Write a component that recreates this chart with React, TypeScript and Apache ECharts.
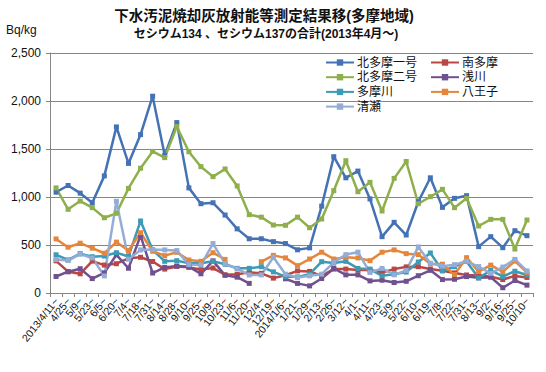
import React, { useEffect, useRef } from "react";
import * as echarts from "echarts";

const categories = [
  "2013/4/11~", "4/25~", "5/9~", "5/23~", "6/5~", "6/20~", "7/4~", "7/18~", "7/31~", "8/14~",
  "8/28~", "9/10~", "9/25~", "10/9~", "10/23~", "11/6~", "11/20~", "12/4~", "12/19~", "2014/1/6~",
  "1/21~", "1/29~", "2/13~", "2/26~", "3/12~", "4/1~", "4/11~", "4/23~", "5/9~", "5/22~",
  "6/10~", "6/19~", "7/8~", "7/22~", "7/31~", "8/13~", "9/2~", "9/16~", "9/25~", "10/10~",
];

const kitatama1 = [1050, 1120, 1040, 940, 1220, 1730, 1350, 1650, 2050, 1435, 1775, 1095, 930, 940, 812, 668, 565, 565, 535, 515, 450, 470, 905, 1420, 1200, 1270, 980, 587, 736, 604, 950, 1200, 892, 986, 1014, 483, 587, 472, 649, 597];
const minamitama = [335, 222, 200, 332, 291, 305, 361, 372, 328, 249, 277, 267, 245, 260, 190, 195, 215, 205, 155, 185, 230, 225, 179, 249, 249, 239, 239, 214, 249, 272, 274, 250, 232, 209, 188, 185, 169, 140, 178, 162];
const kitatama2 = [1095, 872, 958, 889, 784, 830, 1090, 1300, 1475, 1410, 1735, 1472, 1316, 1212, 1292, 1115, 816, 790, 708, 705, 790, 680, 771, 1066, 1378, 1055, 1153, 854, 1194, 1370, 930, 1003, 1080, 889, 986, 698, 767, 767, 458, 760];
const asakawa = [172, 222, 253, 150, 210, 398, 258, 597, 208, 267, 281, 274, 200, 335, 184, 165, 100, null, null, 148, 100, 74, 151, 256, 189, 189, 126, 133, 109, 122, 180, 236, 140, 143, 171, 158, 165, 55, 130, 82];
const tamagawa = [398, 345, 410, 378, 385, 420, 380, 750, 450, 330, 337, 309, 309, 330, 299, 257, 257, 274, 220, 170, 168, 196, 326, 312, 330, 256, 249, 179, 196, 218, 323, 417, 232, 274, 328, 157, 235, 172, 227, 188];
const hachioji = [563, 477, 519, 467, 414, 530, 442, 628, 435, 389, 424, 344, 330, 420, 350, null, null, 326, 392, 366, 285, 354, 425, 354, 372, 365, 337, 425, 449, 410, 400, 305, 300, 192, 368, 223, 290, 221, 333, 215];
const kiyose = [348, 338, 405, 365, 178, 955, 352, 449, 452, 449, 442, 295, 291, 515, 305, 253, 188, 188, 372, 196, 161, 179, 196, 319, 400, 425, 214, 256, 189, 235, 480, 310, 280, 295, 330, 275, 205, 270, 350, 230];

const seriesNames = ["北多摩一号", "南多摩", "北多摩二号", "浅川", "多摩川", "八王子", "清瀬"];
const seriesData = [kitatama1, minamitama, kitatama2, asakawa, tamagawa, hachioji, kiyose];
const seriesColors = ["#4472B4", "#B94743", "#8EAF4B", "#70508F", "#3D9BB5", "#E5863C", "#93ADD6"];

const yTicks = [0, 500, 1000, 1500, 2000, 2500];

const FONT = "'Liberation Sans', 'Noto Sans CJK JP', sans-serif";

const legendText = {
  fontSize: 12,
  lineHeight: 12,
  fontFamily: FONT,
  color: "#111",
  padding: [1, 0, 0, -2],
};

export default function App() {
  const ref = useRef<HTMLDivElement>(null);
  useEffect(() => {
    if (!ref.current) return;
    const chart = echarts.init(ref.current, undefined, { renderer: "svg" });
    chart.setOption({
      animation: false,
      backgroundColor: "#ffffff",
      textStyle: { fontFamily: FONT },
      graphic: [
        {
          type: "text",
          x: 264,
          y: 9,
          style: {
            text: "下水汚泥焼却灰放射能等測定結果移(多摩地域)",
            fontSize: 14.5,
            fontWeight: "bold",
            fontFamily: FONT,
            fill: "#111",
            textAlign: "center",
          },
        },
        {
          type: "text",
          x: 266,
          y: 28,
          style: {
            text: "セシウム134 、セシウム137の合計(2013年4月～)",
            fontSize: 12,
            fontWeight: "bold",
            fontFamily: FONT,
            fill: "#111",
            textAlign: "center",
          },
        },
        {
          type: "text",
          x: 6,
          y: 24,
          style: { text: "Bq/kg", fontSize: 12, fontFamily: FONT, fill: "#111" },
        },
      ],
      legend: [
        {
          left: 325,
          top: 56,
          padding: 0,
          orient: "vertical",
          itemWidth: 28,
          itemHeight: 8,
          itemGap: 1.7,
          data: ["北多摩一号", "北多摩二号", "多摩川", "清瀬"],
          textStyle: legendText,
        },
        {
          left: 430,
          top: 56,
          padding: 0,
          orient: "vertical",
          itemWidth: 28,
          itemHeight: 8,
          itemGap: 1.7,
          data: ["南多摩", "浅川", "八王子"],
          textStyle: legendText,
        },
      ],
      grid: { left: 50, right: 13, top: 53, bottom: 79, containLabel: false },
      xAxis: {
        type: "category",
        data: categories,
        boundaryGap: true,
        axisLine: { lineStyle: { color: "#868686", width: 1 } },
        axisTick: { show: true, interval: 0, length: 4, lineStyle: { color: "#868686" } },
        axisLabel: {
          interval: 0,
          rotate: 52,
          fontSize: 10.5,
          color: "#111",
          margin: 6,
          fontFamily: FONT,
        },
      },
      yAxis: {
        type: "value",
        min: yTicks[0],
        max: yTicks[yTicks.length - 1],
        interval: 500,
        axisLine: { show: true, lineStyle: { color: "#868686", width: 1 } },
        axisTick: { show: true, length: 4, lineStyle: { color: "#868686" } },
        splitLine: { lineStyle: { color: "#868686", width: 1 } },
        axisLabel: {
          fontSize: 12,
          color: "#111",
          margin: 9,
          fontFamily: FONT,
          formatter: (v: number) => v.toLocaleString("en-US"),
        },
      },
      series: seriesNames.map((name, i) => ({
        name,
        type: "line",
        data: seriesData[i],
        connectNulls: false,
        symbol: "rect",
        symbolSize: 5,
        showSymbol: true,
        itemStyle: { color: seriesColors[i] },
        lineStyle: { color: seriesColors[i], width: 2.5 },
        emphasis: { disabled: true },
      })),
    });
    return () => chart.dispose();
  }, []);
  return (
    <div
      ref={ref}
      style={{ position: "fixed", left: 0, top: 0, width: 546, height: 372 }}
    />
  );
}
